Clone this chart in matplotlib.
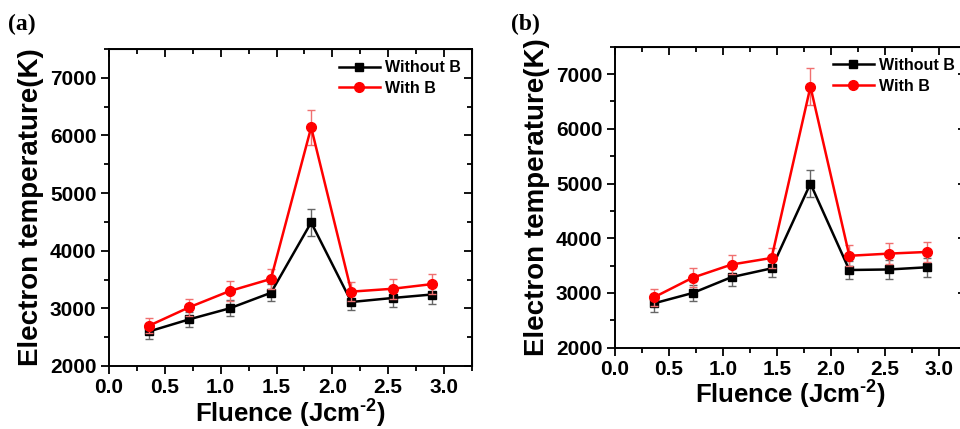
import matplotlib
matplotlib.use("Agg")
import matplotlib.pyplot as plt
from matplotlib.ticker import MultipleLocator

plt.rcParams['font.family'] = ['Liberation Sans', 'DejaVu Sans']
plt.rcParams['font.weight'] = 'bold'
plt.rcParams['mathtext.fontset'] = 'custom'
plt.rcParams['mathtext.rm'] = 'Liberation Sans:bold'
plt.rcParams['mathtext.default'] = 'rm'

fluence = [0.36, 0.72, 1.08, 1.45, 1.81, 2.17, 2.54, 2.89]

# panel (a)
a_without = [2600, 2810, 3000, 3270, 4490, 3110, 3180, 3240]
a_without_err = [130, 130, 140, 150, 230, 140, 150, 160]
a_with = [2700, 3020, 3300, 3510, 6140, 3290, 3340, 3420]
a_with_err = [130, 150, 170, 180, 310, 160, 170, 170]

# panel (b)
b_without = [2810, 3000, 3290, 3450, 5000, 3420, 3430, 3470]
b_without_err = [150, 150, 160, 160, 250, 170, 170, 170]
b_with = [2920, 3280, 3520, 3640, 6770, 3680, 3720, 3750]
b_with_err = [150, 170, 180, 180, 340, 190, 190, 190]

fig = plt.figure(figsize=(9.6, 4.29), dpi=100)
ax_a = fig.add_axes([0.1135, 0.1469, 0.3782, 0.7389])
ax_b = fig.add_axes([0.6406, 0.1895, 0.3656, 0.7015])


def draw(ax, yw, ywe, yb, ybe):
    e1 = ax.errorbar(fluence, yw, yerr=ywe, color='black', ecolor='#666666',
                     elinewidth=1, capsize=3, capthick=1, marker='s', markersize=6,
                     lw=1.8, zorder=3)
    e2 = ax.errorbar(fluence, yb, yerr=ybe, color='#ff0000', ecolor='#f07070',
                     elinewidth=1, capsize=3, capthick=1, marker='o', markersize=7,
                     lw=1.8, zorder=4)
    ax.set_xlim(0, 3.25)
    ax.set_ylim(2000, 7500)
    ax.xaxis.set_major_locator(MultipleLocator(0.5))
    ax.xaxis.set_minor_locator(MultipleLocator(0.25))
    ax.yaxis.set_minor_locator(MultipleLocator(500))
    ax.set_yticks([2000, 3000, 4000, 5000, 6000, 7000])
    ax.xaxis.set_major_formatter(plt.FuncFormatter(lambda v, p: f"{v:.1f}"))
    ax.tick_params(which='both', direction='out', top=False, right=False,
                   width=1.3, labelsize=15, pad=3)
    ax.tick_params(which='major', length=6)
    ax.tick_params(which='minor', length=3.5)
    for sp in ax.spines.values():
        sp.set_linewidth(1.4)
    # inward ticks on top and right
    sec_x = ax.secondary_xaxis('top')
    sec_x.xaxis.set_major_locator(MultipleLocator(0.5))
    sec_x.xaxis.set_minor_locator(MultipleLocator(0.25))
    sec_x.tick_params(which='both', direction='in', labeltop=False, width=1.3)
    sec_x.tick_params(which='major', length=6)
    sec_x.tick_params(which='minor', length=3.5)
    sec_y = ax.secondary_yaxis('right')
    sec_y.yaxis.set_major_locator(MultipleLocator(1000))
    sec_y.yaxis.set_minor_locator(MultipleLocator(500))
    sec_y.tick_params(which='both', direction='in', labelright=False, width=1.3)
    sec_y.tick_params(which='major', length=6)
    sec_y.tick_params(which='minor', length=3.5)
    ax.set_xlabel('Fluence (Jcm$^{\\text{-2}}$)', fontsize=18.5, fontweight='bold', labelpad=0)
    ax.set_ylabel('Electron temperature(K)', fontsize=20, fontweight='bold', labelpad=4)
    leg = ax.legend([e1[0], e2[0]], ['Without B', 'With B'], loc='upper right',
                    frameon=False, fontsize=11.5, handlelength=2.6,
                    handletextpad=0.3, labelspacing=0.35, borderaxespad=0.3)
    for t in leg.get_texts():
        t.set_fontweight('bold')


draw(ax_a, a_without, a_without_err, a_with, a_with_err)
draw(ax_b, b_without, b_without_err, b_with, b_with_err)

fig.text(0.008, 0.93, '(a)', family='Liberation Serif', fontsize=17, fontweight='bold')
fig.text(0.532, 0.93, '(b)', family='Liberation Serif', fontsize=17, fontweight='bold')

fig.savefig('out.png', dpi=100)
